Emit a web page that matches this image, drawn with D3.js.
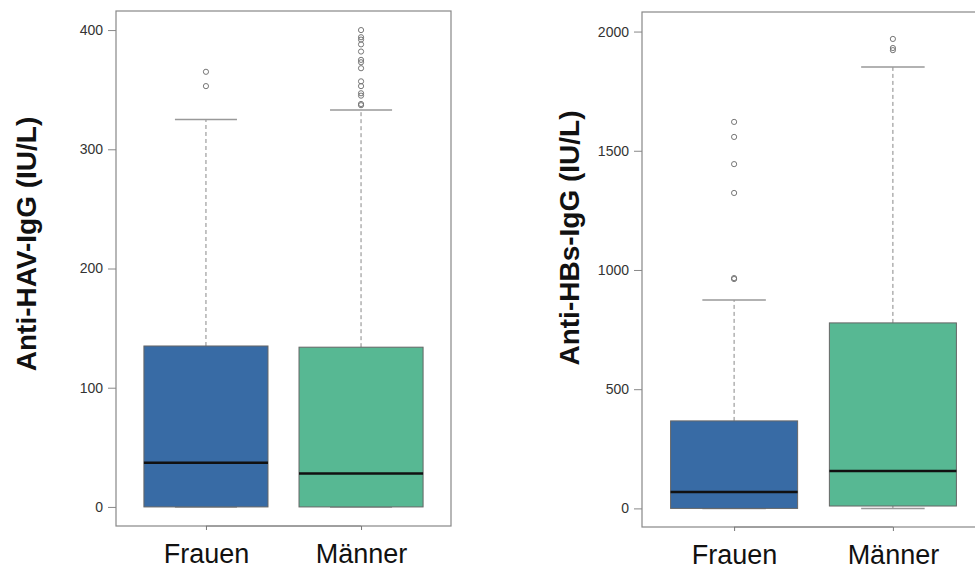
<!DOCTYPE html>
<html>
<head>
<meta charset="utf-8">
<script src="https://cdn.jsdelivr.net/npm/d3@7"></script>
<style>
  body { margin: 0; background: #fff; }
  svg { display: block; font-family: "Liberation Sans", Arial, sans-serif; }
</style>
</head>
<body>
<div id="chart"></div>
<script>
const width = 975;
const height = 570;

// Daten
const groups = ["Frauen", "Männer"];
const colors = ["#386ba5", "#57b893"];

// Anti-HAV-IgG
const havLow = [0, 0];
const havQ1 = [0, 0];
const havMedian = [37, 28];
const havQ3 = [135, 134];
const havHigh = [325, 333];
const havOutliers = [
  [353, 365],
  [337, 338, 345, 347, 353, 357, 368, 373, 375, 382, 388, 392, 394, 400]
];
const havTicks = [0, 100, 200, 300, 400];

// Anti-HBs-IgG
const hbsLow = [0, 0];
const hbsQ1 = [0, 10];
const hbsMedian = [69, 157];
const hbsQ3 = [367, 778];
const hbsHigh = [874, 1851];
const hbsOutliers = [
  [962, 966, 1323, 1444, 1558, 1621],
  [1922, 1931, 1969]
];
const hbsTicks = [0, 500, 1000, 1500, 2000];

const svg = d3.select("#chart")
  .append("svg")
  .attr("width", width)
  .attr("height", height);

function boxPanel(opt) {
  const x = d3.scaleLinear().domain([0.42, 2.58]).range([opt.left, opt.right]);
  const y = d3.scaleLinear().domain(opt.yDomain).range([opt.bottom, opt.top]);
  const g = svg.append("g");

  const stats = groups.map((name, i) => ({
    name, i, pos: i + 1,
    lo: opt.low[i], q1: opt.q1[i], med: opt.median[i], q3: opt.q3[i], hi: opt.high[i],
    out: opt.outliers[i]
  }));

  // Whisker (gestrichelt)
  g.selectAll(".whisk-up").data(stats).enter().append("line")
    .attr("x1", d => x(d.pos)).attr("x2", d => x(d.pos))
    .attr("y1", d => y(d.q3)).attr("y2", d => y(d.hi))
    .attr("stroke", "#888").attr("stroke-dasharray", "4,3");
  g.selectAll(".whisk-lo").data(stats).enter().append("line")
    .attr("x1", d => x(d.pos)).attr("x2", d => x(d.pos))
    .attr("y1", d => y(d.q1)).attr("y2", d => y(d.lo))
    .attr("stroke", "#888").attr("stroke-dasharray", "4,3");

  // Caps
  ["hi", "lo"].forEach(k => {
    g.selectAll(".cap-" + k).data(stats).enter().append("line")
      .attr("x1", d => x(d.pos - 0.2)).attr("x2", d => x(d.pos + 0.2))
      .attr("y1", d => y(d[k])).attr("y2", d => y(d[k]))
      .attr("stroke", "#999").attr("stroke-width", 1.5);
  });

  // Boxen
  g.selectAll(".box").data(stats).enter().append("rect")
    .attr("x", d => x(d.pos - 0.4))
    .attr("width", d => x(d.pos + 0.4) - x(d.pos - 0.4))
    .attr("y", d => y(d.q3))
    .attr("height", d => y(d.q1) - y(d.q3))
    .attr("fill", d => colors[d.i])
    .attr("stroke", "#666").attr("stroke-width", 1);

  // Median
  g.selectAll(".med").data(stats).enter().append("line")
    .attr("x1", d => x(d.pos - 0.4)).attr("x2", d => x(d.pos + 0.4))
    .attr("y1", d => y(d.med)).attr("y2", d => y(d.med))
    .attr("stroke", "#111").attr("stroke-width", 2.6);

  // Ausreißer
  stats.forEach(d => {
    g.selectAll(null).data(d.out).enter().append("circle")
      .attr("cx", x(d.pos)).attr("cy", v => y(v)).attr("r", 2.6)
      .attr("fill", "none").attr("stroke", "#777").attr("stroke-width", 1);
  });

  // Rahmen
  g.append("rect")
    .attr("x", opt.left).attr("y", opt.top)
    .attr("width", opt.right - opt.left).attr("height", opt.bottom - opt.top)
    .attr("fill", "none").attr("stroke", "#888").attr("stroke-width", 1.2);

  // y-Achse
  const yAxis = g.append("g")
    .attr("transform", `translate(${opt.left},0)`)
    .call(d3.axisLeft(y).tickValues(opt.ticks).tickFormat(d3.format("d")).tickSize(8).tickPadding(5));
  yAxis.select(".domain").remove();
  yAxis.selectAll(".tick line").attr("stroke", "#888");
  yAxis.selectAll(".tick text")
    .attr("fill", "#333").style("font-size", "14px")
    .style("font-family", "'Liberation Sans', Arial, sans-serif");

  // x-Achse
  const xAxis = g.append("g")
    .attr("transform", `translate(0,${opt.bottom})`)
    .call(d3.axisBottom(x).tickValues([1, 2]).tickSize(4).tickFormat((v) => groups[v - 1]).tickPadding(14));
  xAxis.select(".domain").attr("stroke", "#888").attr("d", `M${x(1)},0H${x(2)}`);
  xAxis.selectAll(".tick line").attr("stroke", "#777");
  xAxis.selectAll(".tick text")
    .attr("fill", "#111").style("font-size", "27px")
    .style("font-family", "'Liberation Sans', Arial, sans-serif");

  // y-Beschriftung
  g.append("text")
    .attr("transform", `translate(${opt.labelX},${opt.labelY}) rotate(-90)`)
    .attr("text-anchor", "middle")
    .attr("dy", "0.35em")
    .style("font-size", "28px")
    .style("font-weight", "bold")
    .attr("fill", "#111")
    .text(opt.label);
}

boxPanel({
  left: 116, right: 451, top: 11, bottom: 526,
  yDomain: [-16, 416],
  low: havLow, q1: havQ1, median: havMedian, q3: havQ3, high: havHigh,
  outliers: havOutliers, ticks: havTicks,
  label: "Anti-HAV-IgG (IU/L)", labelX: 26, labelY: 244
});

boxPanel({
  left: 642, right: 985, top: 12, bottom: 527,
  yDomain: [-78, 2082],
  low: hbsLow, q1: hbsQ1, median: hbsMedian, q3: hbsQ3, high: hbsHigh,
  outliers: hbsOutliers, ticks: hbsTicks,
  label: "Anti-HBs-IgG (IU/L)", labelX: 569, labelY: 238
});
</script>
</body>
</html>
